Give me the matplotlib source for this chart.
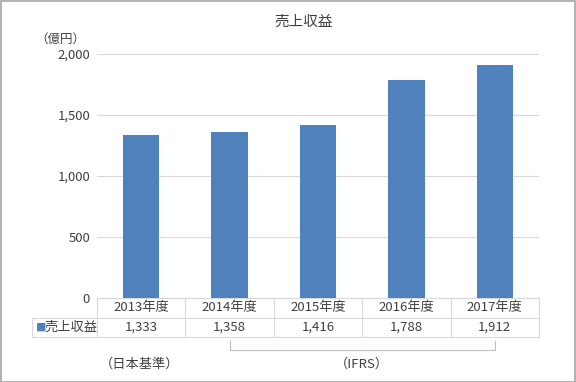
import numpy as np
import matplotlib.pyplot as plt
from matplotlib.patches import Rectangle

plt.rcParams['font.family'] = ['Noto Sans CJK JP', 'DejaVu Sans']

years = ['2013年度', '2014年度', '2015年度', '2016年度', '2017年度']
sales = [1333, 1358, 1416, 1788, 1912]
series_name = '売上収益'
yticks = [0, 500, 1000, 1500, 2000]

bar_color = '#4F81BD'
grid_color = '#D9D9D9'
text_color = '#404040'

fig = plt.figure(figsize=(5.76, 3.82), dpi=100)
W, H = 576, 382
ax = fig.add_axes([97 / W, 1 - 298 / H, (539 - 97) / W, (298 - 54) / H])

x = np.arange(len(years))
ax.bar(x, sales, width=0.41, color=bar_color, zorder=3)
ax.set_xlim(-0.5, len(years) - 0.5)
ax.set_ylim(0, 2000)
ax.set_yticks(yticks)
ax.set_yticklabels([f'{v:,}' for v in yticks], fontsize=9.5, color=text_color)
ax.tick_params(axis='y', length=0, pad=5)
ax.set_xticks([])
ax.grid(axis='y', color=grid_color, lw=0.8, zorder=0)
for s in ax.spines.values():
    s.set_visible(False)

# data table under the chart
tr = ax.get_xaxis_transform()
r1 = -20 / 244
r2 = -39 / 244
left = -1.235
lc = dict(color=grid_color, lw=0.8, transform=tr, clip_on=False)
ax.plot([-0.5, len(years) - 0.5], [0, 0], **lc)
ax.plot([left, len(years) - 0.5], [r1, r1], **lc)
ax.plot([left, len(years) - 0.5], [r2, r2], **lc)
ax.plot([left, left], [r1, r2], **lc)
for e in np.arange(-0.5, len(years), 1.0):
    ax.plot([e, e], [0, r2], **lc)
for i, (yr, v) in enumerate(zip(years, sales)):
    ax.text(i, r1 / 2, yr, transform=tr, ha='center', va='center',
            fontsize=9.5, color=text_color)
    ax.text(i, (r1 + r2) / 2, f'{v:,}', transform=tr, ha='center', va='center',
            fontsize=9.5, color=text_color)
ax.text(left + 0.04, (r1 + r2) / 2, '■', transform=tr, ha='left', va='center',
        fontsize=7.5, color=bar_color)
ax.text(left + 0.14, (r1 + r2) / 2, series_name, transform=tr, ha='left',
        va='center', fontsize=9.5, color=text_color)

# bracket for IFRS years
by0, by1 = -43 / 244, -52 / 244
ax.plot([1, 1, 4, 4], [by0, by1, by1, by0], color='#BFBFBF',
        lw=0.8, transform=tr, clip_on=False)
fig.text(140 / W, 1 - 364 / H, '（日本基準）', ha='center', va='center',
         fontsize=9.5, color=text_color)
fig.text(362 / W, 1 - 364 / H, '（IFRS）', ha='center', va='center',
         fontsize=9.5, color=text_color)

fig.text(304 / W, 1 - 22 / H, series_name, ha='center', va='center',
         fontsize=10.5, color=text_color)
fig.text(60 / W, 1 - 39 / H, '（億円）', ha='center', va='center',
         fontsize=9, color=text_color)

fig.patches.append(Rectangle((0.5 / W, 0.5 / H), 1 - 1.5 / W, 1 - 1.5 / H,
                             transform=fig.transFigure, fill=False,
                             ec='#A6A6A6', lw=1.2))

fig.savefig('out.png', dpi=100)
